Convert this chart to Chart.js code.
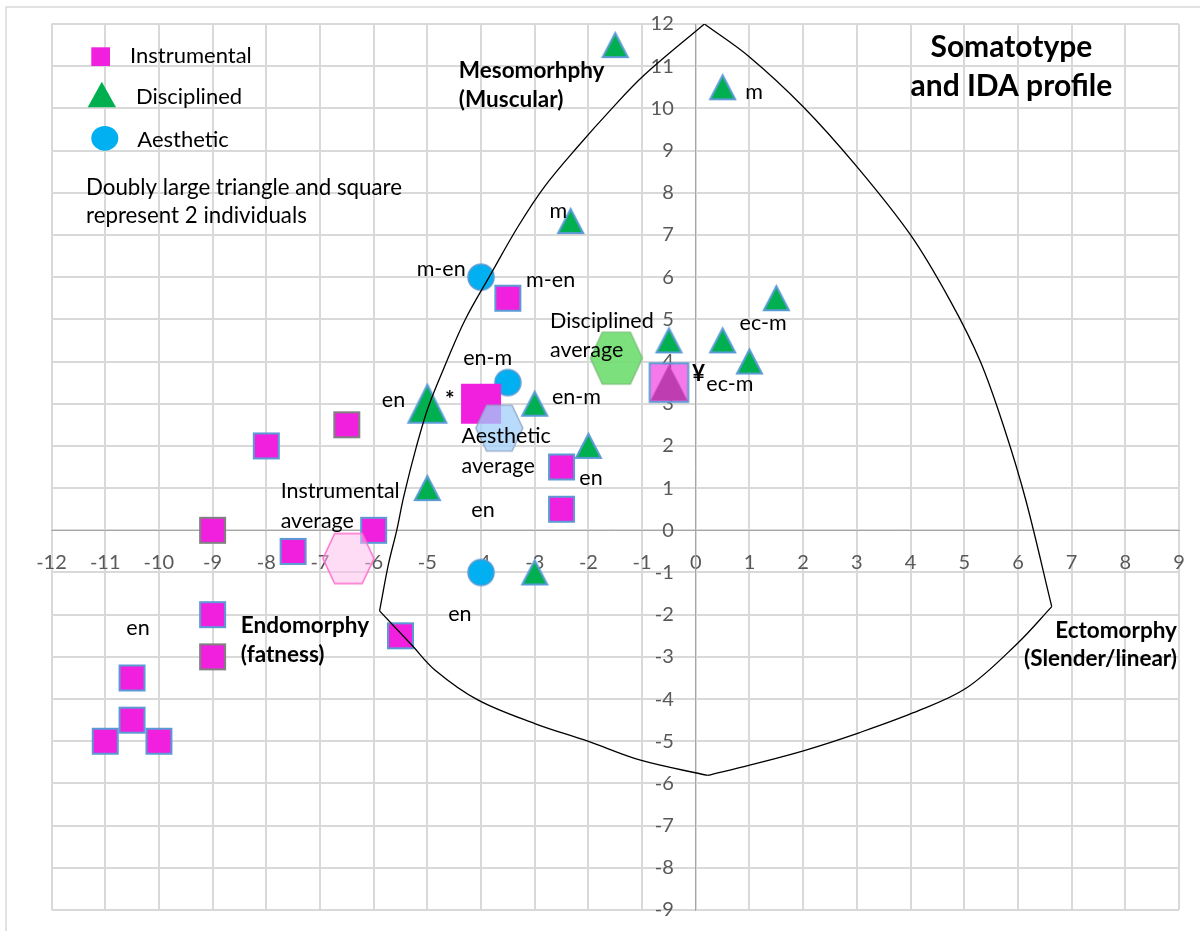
<!DOCTYPE html>
<html>
<head>
<meta charset="utf-8">
<title>Somatotype and IDA profile</title>
<script src="https://cdn.jsdelivr.net/npm/chart.js@4.4.1/dist/chart.umd.min.js"></script>
<style>
  html, body { margin: 0; padding: 0; background: #ffffff; }
  #wrap { width: 1200px; height: 931px; position: relative; }
</style>
</head>
<body>
<div id="wrap"><canvas id="chart"></canvas></div>
<script>
// ---- axis ranges ----
const xRange = [-12, 9];
const yRange = [-9, 12];

// ---- individuals by group (somatochart X, Y) ----
const instrumentalX = [-9, -8, -6.5, -6, -7.5, -9, -9, -10.5, -10.5, -11, -10, -5.5, -3.5, -2.5, -2.5];
const instrumentalY = [0, 2, 2.5, 0, -0.5, -2, -3, -3.5, -4.5, -5, -5, -2.5, 5.5, 1.5, 0.5];
const instrumentalPairX = [-4, -0.5];
const instrumentalPairY = [3, 3.5];

const disciplinedX = [-1.5, 0.5, -2.33, 1.5, -0.5, 0.5, 1, -3, -2, -5, -3];
const disciplinedY = [11.5, 10.5, 7.33, 5.5, 4.5, 4.5, 4, 3, 2, 1, -1];
const disciplinedPairX = [-5, -0.5];
const disciplinedPairY = [3, 3.5];

const aestheticX = [-4, -3.5, -4];
const aestheticY = [6, 3.5, -1];

// ---- group averages ----
const averageGroups = ['Instrumental', 'Disciplined', 'Aesthetic'];
const averageX = [-6.47, -1.48, -3.66];
const averageY = [-0.67, 4.08, 2.42];

// ---- somatochart outline, four arcs ----
const outlineRightX = [0.16, 1, 2, 3, 4, 4.73, 5.3, 5.75, 6.15, 6.63];
const outlineRightY = [12, 11.22, 10.04, 8.62, 7.0, 5.46, 4.0, 2.4, 0.7, -1.81];
const outlineLowRightX = [6.63, 6.0, 5.04, 4.04, 3.04, 2.02, 1.02, 0.22];
const outlineLowRightY = [-1.81, -2.67, -3.74, -4.33, -4.8, -5.22, -5.56, -5.81];
const outlineLowLeftX = [0.22, -1.03, -2.01, -3.0, -4.06, -4.86, -5.29, -5.89];
const outlineLowLeftY = [-5.81, -5.45, -5.0, -4.58, -4.02, -3.31, -2.72, -1.91];
const outlineLeftX = [-5.89, -5.72, -5.57, -5.44, -5.2, -4.98, -4.64, -4.3, -3.81, -3.31, -2.82, -2.2, -1.59, -0.96, 0.16];
const outlineLeftY = [-1.91, -0.78, 0, 0.8, 2, 2.93, 4.0, 4.98, 6.09, 7.2, 8.14, 9.09, 9.96, 10.79, 12];

// ---- styling ----
const FONT = 'Lato, "Open Sans", "DejaVu Sans", sans-serif';
const MAGENTA = 'rgb(240,32,222)';
const GREEN = 'rgb(0,176,80)';
const CYAN = 'rgb(0,176,240)';
const EDGE_BLUE = 'rgb(91,155,213)';
const EDGE_GREY = 'rgb(128,128,128)';
const Y_LABEL_GAP = 22;                  // space between value axis and its numbers
const greyEdged = new Set([0, 2, 6]);   // instrumental markers outlined in grey

const zip = (xs, ys) => xs.map((x, i) => ({ x, y: ys[i] }));

// marker sprites drawn once and handed to Chart.js as point styles
function sprite(shape, w, h, fill, stroke, lw) {
  const pad = Math.ceil(lw || 0) + 2;
  const c = document.createElement('canvas');
  c.width = Math.round(w + 2 * pad);
  c.height = Math.round(h + 2 * pad);
  const g = c.getContext('2d');
  const cx = c.width / 2, cy = c.height / 2;
  g.beginPath();
  if (shape === 'square') {
    g.rect(cx - w / 2, cy - h / 2, w, h);
  } else if (shape === 'triangle') {
    g.moveTo(cx, cy - h / 2);
    g.lineTo(cx + w / 2, cy + h / 2);
    g.lineTo(cx - w / 2, cy + h / 2);
    g.closePath();
  } else if (shape === 'circle') {
    g.ellipse(cx, cy, w / 2, h / 2, 0, 0, Math.PI * 2);
  } else if (shape === 'hexagon') {
    const e = w * 0.27;
    g.moveTo(cx - w / 2, cy);
    g.lineTo(cx - e, cy - h / 2);
    g.lineTo(cx + e, cy - h / 2);
    g.lineTo(cx + w / 2, cy);
    g.lineTo(cx + e, cy + h / 2);
    g.lineTo(cx - e, cy + h / 2);
    g.closePath();
  }
  g.fillStyle = fill;
  g.fill();
  if (stroke && lw) {
    g.lineWidth = lw;
    g.strokeStyle = stroke;
    g.lineJoin = 'miter';
    g.stroke();
  }
  return c;
}

const sqBlue = sprite('square', 25, 25, MAGENTA, EDGE_BLUE, 2);
const sqGrey = sprite('square', 25, 25, MAGENTA, EDGE_GREY, 2);
const sqPairSolid = sprite('square', 40, 40, MAGENTA);
const sqPairSoft = sprite('square', 38.5, 38.5, 'rgba(240,32,222,0.6)', EDGE_BLUE, 2);
const triSmall = sprite('triangle', 25, 24, GREEN, EDGE_BLUE, 2);
const triPair = sprite('triangle', 38, 38, GREEN, EDGE_BLUE, 2);
const triPairInside = sprite('triangle', 37, 36, 'rgb(190,62,178)');
const dot = sprite('circle', 26, 26, CYAN, EDGE_BLUE, 1.5);
const hexes = [
  sprite('hexagon', 51, 50, 'rgba(255,185,235,0.5)', 'rgb(255,110,205)', 1.5),
  sprite('hexagon', 52, 52, 'rgba(110,222,110,0.9)', 'rgb(120,185,120)', 1.2),
  sprite('hexagon', 47, 46, 'rgba(160,205,250,0.75)', 'rgb(140,160,190)', 1.2)
];

const outlineSet = (xs, ys) => ({
  data: zip(xs, ys),
  showLine: true,
  borderColor: '#000000',
  borderWidth: 1.3,
  pointRadius: 0,
  tension: 0.35,
  fill: false,
  order: 0
});

// ---- text placed in chart units ----
const notes = [
  { t: 'Mesomorhphy', x: -4.413, y: 10.713, b: true },
  { t: '(Muscular)', x: -4.413, y: 10.026, b: true },
  { t: 'Somatotype', x: 5.878, y: 11.226, b: true, s: 30, a: 'center' },
  { t: 'and IDA profile', x: 5.878, y: 10.301, b: true, s: 30, a: 'center' },
  { t: 'm', x: 0.923, y: 10.216 },
  { t: 'm', x: -2.726, y: 7.395 },
  { t: 'm-en', x: -5.199, y: 6.028 },
  { t: 'm-en', x: -3.16, y: 5.774 },
  { t: 'Disciplined', x: -2.715, y: 4.788 },
  { t: 'average', x: -2.715, y: 4.1 },
  { t: 'ec-m', x: 0.816, y: 4.748 },
  { t: 'en-m', x: -4.333, y: 3.918 },
  { t: '¥', x: -0.069, y: 3.539, b: true },
  { t: 'ec-m', x: 0.197, y: 3.309 },
  { t: 'en', x: -5.848, y: 2.93 },
  { t: '*', x: -4.673, y: 2.922, b: true },
  { t: 'en-m', x: -2.678, y: 2.987 },
  { t: 'Aesthetic', x: -4.365, y: 2.062 },
  { t: 'average', x: -4.365, y: 1.351 },
  { t: 'en', x: -2.169, y: 1.067 },
  { t: 'en', x: -4.18, y: 0.322 },
  { t: 'Instrumental', x: -7.732, y: 0.758 },
  { t: 'average', x: -7.732, y: 0.047 },
  { t: 'en', x: -4.612, y: -2.143 },
  { t: 'en', x: -10.606, y: -2.482 },
  { t: 'Endomorphy', x: -8.474, y: -2.441, b: true },
  { t: '(fatness)', x: -8.474, y: -3.114, b: true },
  { t: 'Ectomorphy', x: 8.962, y: -2.56, b: true, a: 'right' },
  { t: '(Slender/linear)', x: 8.962, y: -3.216, b: true, a: 'right' }
];

const framePlugin = {
  id: 'frame',
  beforeDraw(chart) {
    const ctx = chart.ctx;
    ctx.save();
    ctx.fillStyle = '#ffffff';
    ctx.fillRect(0, 0, chart.width, chart.height);
    ctx.strokeStyle = '#d9d9d9';
    ctx.lineWidth = 1.5;
    ctx.beginPath();
    ctx.moveTo(6, chart.height);
    ctx.lineTo(6, 7);
    ctx.lineTo(chart.width, 7);
    ctx.stroke();
    ctx.restore();

    // a value axis pinned at x = 0 ignores ticks.padding, so open the gap here
    const ys = chart.scales.y;
    ys.getLabelItems().forEach(item => {
      if (!item._shifted) {
        item.options.translation[0] -= Y_LABEL_GAP;
        item._shifted = true;
      }
    });
  }
};

const notesPlugin = {
  id: 'notes',
  afterDatasetsDraw(chart) {
    const ctx = chart.ctx;
    const sx = chart.scales.x, sy = chart.scales.y;
    ctx.save();
    ctx.fillStyle = '#000000';
    ctx.textBaseline = 'alphabetic';
    notes.forEach(n => {
      ctx.font = (n.b ? 'bold ' : '') + (n.s || (n.b ? 22.5 : 21.5)) + 'px ' + FONT;
      ctx.textAlign = n.a || 'left';
      ctx.fillText(n.t, sx.getPixelForValue(n.x), sy.getPixelForValue(n.y));
    });

    // key in the upper-left corner
    ctx.textAlign = 'left';
    ctx.font = '22px ' + FONT;
    ctx.fillStyle = MAGENTA;
    ctx.fillRect(91.3, 47.3, 18.7, 18.7);
    ctx.fillStyle = GREEN;
    ctx.beginPath();
    ctx.moveTo(101.8, 81.7); ctx.lineTo(116, 107.3); ctx.lineTo(87.7, 107.3); ctx.closePath();
    ctx.fill();
    ctx.fillStyle = CYAN;
    ctx.beginPath();
    ctx.ellipse(104.8, 138.3, 13.5, 12.4, 0, 0, Math.PI * 2);
    ctx.fill();
    ctx.fillStyle = '#000000';
    ctx.fillText('Instrumental', 130, 63.3);
    ctx.fillText('Disciplined', 136, 104.3);
    ctx.fillText('Aesthetic', 137.3, 146.7);
    ctx.font = '22.3px ' + FONT;
    ctx.fillText('Doubly large triangle and square', 86, 195);
    ctx.fillText('represent 2 individuals', 86, 223.3);
    ctx.restore();
  }
};

// centred axes should not push the plot area inwards
const noEdgePadding = scale => {
  scale.paddingTop = 0;
  scale.paddingBottom = 0;
  scale.paddingLeft = 0;
  scale.paddingRight = 0;
};

new Chart(document.getElementById('chart'), {
  type: 'scatter',
  data: {
    datasets: [
      outlineSet(outlineRightX, outlineRightY),
      outlineSet(outlineLowRightX, outlineLowRightY),
      outlineSet(outlineLowLeftX, outlineLowLeftY),
      outlineSet(outlineLeftX, outlineLeftY),
      {
        label: 'Averages',
        data: zip(averageX, averageY),
        pointStyle: averageGroups.map((g, i) => hexes[i]),
        pointRadius: 20,
        order: 1
      },
      {
        label: 'Disciplined (2 individuals)',
        data: zip(disciplinedPairX, disciplinedPairY),
        pointStyle: [triPair, triPairInside],
        pointRadius: 20,
        order: 2
      },
      {
        label: 'Instrumental (2 individuals)',
        data: zip(instrumentalPairX, instrumentalPairY),
        pointStyle: [sqPairSolid, sqPairSoft],
        pointRadius: 20,
        order: 3
      },
      {
        label: 'Disciplined',
        data: zip(disciplinedX, disciplinedY),
        pointStyle: triSmall,
        pointRadius: 14,
        order: 4
      },
      {
        label: 'Instrumental',
        data: zip(instrumentalX, instrumentalY),
        pointStyle: instrumentalX.map((_, i) => greyEdged.has(i) ? sqGrey : sqBlue),
        pointRadius: 14,
        order: 5
      },
      {
        label: 'Aesthetic',
        data: zip(aestheticX, aestheticY),
        pointStyle: dot,
        pointRadius: 14,
        order: 6
      }
    ]
  },
  options: {
    responsive: true,
    maintainAspectRatio: false,
    animation: false,
    events: [],
    layout: { padding: { left: 51.5, top: 24, right: 16, bottom: 21 } },
    plugins: { legend: { display: false }, tooltip: { enabled: false } },
    scales: {
      x: {
        type: 'linear',
        min: xRange[0], max: xRange[1],
        position: { y: 0 },
        afterFit: noEdgePadding,
        grid: { color: '#d9d9d9', lineWidth: 2, drawTicks: false },
        border: { color: '#a6a6a6', width: 1 },
        ticks: {
          stepSize: 1, autoSkip: false, maxRotation: 0, padding: 20,
          color: '#595959', font: { family: FONT, size: 20 }
        }
      },
      y: {
        type: 'linear',
        min: yRange[0], max: yRange[1],
        position: { x: 0 },
        afterFit: noEdgePadding,
        grid: { color: '#d9d9d9', lineWidth: 2, drawTicks: false },
        border: { color: '#a6a6a6', width: 1 },
        ticks: {
          stepSize: 1, autoSkip: false,
          color: '#595959', font: { family: FONT, size: 20 }
        }
      }
    }
  },
  plugins: [framePlugin, notesPlugin]
});
</script>
</body>
</html>
